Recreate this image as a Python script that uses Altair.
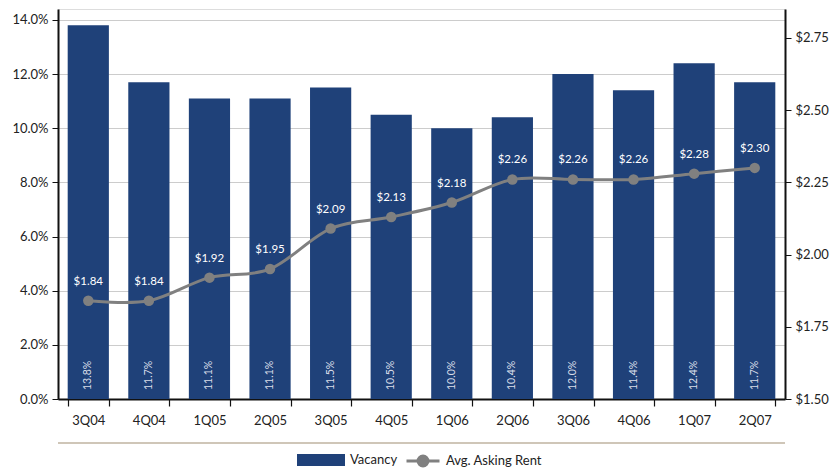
import altair as alt
import pandas as pd

quarters = ["3Q04", "4Q04", "1Q05", "2Q05", "3Q05", "4Q05", "1Q06", "2Q06", "3Q06", "4Q06", "1Q07", "2Q07"]
vacancy = [13.8, 11.7, 11.1, 11.1, 11.5, 10.5, 10.0, 10.4, 12.0, 11.4, 12.4, 11.7]
rent = [1.84, 1.84, 1.92, 1.95, 2.09, 2.13, 2.18, 2.26, 2.26, 2.26, 2.28, 2.30]

df = pd.DataFrame({
    "q": quarters,
    "vacancy": vacancy,
    "rent": rent,
    "vlab": [f"{v:.1f}%" for v in vacancy],
    "rlab": [f"${r:.2f}" for r in rent],
    "s1": ["Vacancy"] * len(quarters),
    "s2": ["Avg. Asking Rent"] * len(quarters),
})

FONT = "Lato"
BAR = "#1f4179"
GRAY = "#808080"

x = alt.X("q:N", sort=quarters, title=None,
          scale=alt.Scale(paddingInner=0.32, paddingOuter=0.16),
          axis=alt.Axis(labelAngle=0, labelFontSize=13, labelColor="#222", labelFont=FONT,
                        labelPadding=8, domainColor="#111", domainWidth=2,
                        tickColor="#111", tickSize=7, tickWidth=1.2, tickBand="extent"))

yl = alt.Y("vacancy:Q", title=None,
           scale=alt.Scale(domain=[0, 14.4], nice=False),
           axis=alt.Axis(values=[0, 2, 4, 6, 8, 10, 12, 14],
                         labelExpr="format(datum.value, '.1f') + '%'",
                         labelFontSize=13, labelColor="#222", labelFont=FONT,
                         domainColor="#111", domainWidth=2, tickColor="#111", tickSize=6,
                         grid=True, gridColor="#cccccc", gridWidth=1.2, labelPadding=4))

bars = alt.Chart(df).mark_bar(color=BAR).encode(
    x=x, y=yl,
    fill=alt.Fill("s1:N", scale=alt.Scale(range=[BAR]),
                  legend=alt.Legend(title=None, orient="none", legendX=248, legendY=436,
                                    symbolType="M-1.6,-0.4H1.6V0.4H-1.6Z", symbolSize=900,
                                    labelOffset=14,
                                    labelFontSize=13, labelFont=FONT, labelColor="#222",
                                    symbolStrokeWidth=0)))

vlabels = alt.Chart(df).mark_text(angle=270, align="left", baseline="middle", dx=9,
                                  color="#d8dde8", fontSize=10.5, font=FONT).encode(
    x=alt.X("q:N", sort=quarters), y=alt.datum(0), text="vlab:N")

yr_scale = alt.Scale(domain=[1.5, 2.85], nice=False)
yr_axis = alt.Axis(values=[1.5, 1.75, 2.0, 2.25, 2.5, 2.75], format="$.2f", orient="right",
                   labelFontSize=13, labelColor="#222", labelFont=FONT,
                   domainColor="#111", domainWidth=2, tickColor="#111", tickSize=6,
                   grid=False, labelPadding=4)

yr = alt.Y("rent:Q", scale=yr_scale, axis=yr_axis, title=None)

line = alt.Chart(df).mark_line(color=GRAY, strokeWidth=3, interpolate="cardinal").encode(
    x=alt.X("q:N", sort=quarters),
    y=yr,
    stroke=alt.Stroke("s2:N", scale=alt.Scale(range=[GRAY]),
                      legend=alt.Legend(title=None, orient="none", legendX=347, legendY=434,
                                        symbolType="M-1,0H1M0.3,0A0.3,0.3 0 1 1 -0.3,0A0.3,0.3 0 1 1 0.3,0Z",
                                        symbolSize=1089, symbolStrokeWidth=3,
                                        symbolFillColor=GRAY, labelOffset=5,
                                        labelFontSize=13, labelFont=FONT, labelColor="#222")))

pts = alt.Chart(df).mark_point(filled=True, color=GRAY, size=110, opacity=1).encode(
    x=alt.X("q:N", sort=quarters), y=yr)

rlabels = alt.Chart(df).mark_text(color="white", fontSize=11.5, font=FONT, dy=-19).encode(
    x=alt.X("q:N", sort=quarters), y=yr, text="rlab:N")

sep = alt.Chart(df).mark_rule(color="#cfc6b8", strokeWidth=2, clip=False).encode(
    x=alt.value(0), x2=alt.value(727), y=alt.value(434))

left = alt.layer(bars, vlabels)
right = alt.layer(line, pts, rlabels)

chart = alt.layer(left, right, sep).resolve_scale(y="independent", fill="independent", stroke="independent").properties(
    width=727, height=390,
    autosize=alt.AutoSizeParams(type="none"),
    padding={"left": 58, "top": 9, "right": 47, "bottom": 76},
).configure_view(stroke=None).configure(font=FONT, background="white")

chart.save("out.html", embed_options={"renderer": "svg", "actions": False})
